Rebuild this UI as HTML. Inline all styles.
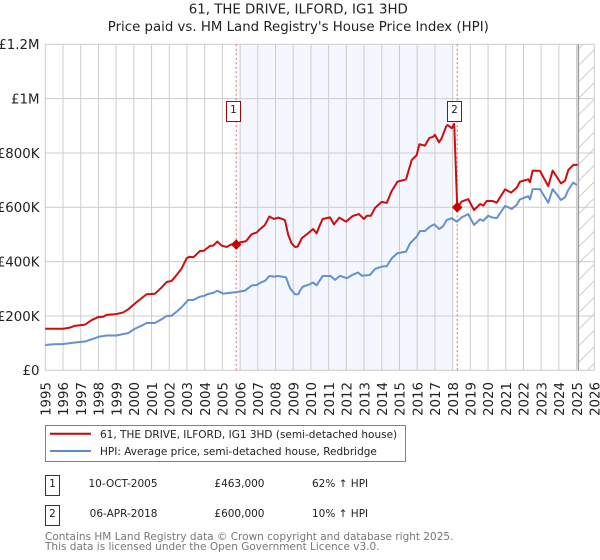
<!DOCTYPE html>
<html>
<head>
<meta charset="utf-8">
<title>61, THE DRIVE, ILFORD, IG1 3HD</title>
<style>
html,body{margin:0;padding:0;background:#fff;}
svg{display:block;font-family:"DejaVu Sans","Liberation Sans",sans-serif;}
</style>
</head>
<body>
<svg id="chart" xmlns="http://www.w3.org/2000/svg" width="600" height="560" viewBox="0 0 600 560">
  <defs>
    <pattern id="hatch" patternUnits="userSpaceOnUse" width="16.5" height="16.5" patternTransform="translate(578 0)">
      <line x1="0" y1="16.5" x2="16.5" y2="0" stroke="#cfcfcf" stroke-width="1"/>
    </pattern>
  </defs>
  <text x="298.3" y="13.3" font-size="13.33" text-anchor="middle" fill="#222">61, THE DRIVE, ILFORD, IG1 3HD</text>
  <text x="298.3" y="30.8" font-size="13.33" text-anchor="middle" fill="#222">Price paid vs. HM Land Registry's House Price Index (HPI)</text>
  <g id="plot"></g>

  <g>
    <rect x="45.5" y="425.5" width="360" height="36" fill="#fff" stroke="#808080" stroke-width="1"/>
    <line x1="50" y1="433.8" x2="91" y2="433.8" stroke="#cc0000" stroke-width="2"/>
    <text x="100" y="438.2" font-size="10.5" fill="#222">61, THE DRIVE, ILFORD, IG1 3HD (semi-detached house)</text>
    <line x1="50" y1="451" x2="91" y2="451" stroke="#5b8bd0" stroke-width="2"/>
    <text x="100" y="455" font-size="10.5" fill="#222">HPI: Average price, semi-detached house, Redbridge</text>
  </g>

  <g font-size="10.5" fill="#222">
    <rect x="45.5" y="475.5" width="14" height="20" fill="#fff" stroke="#b20000" stroke-width="1"/>
    <text x="52.5" y="487" text-anchor="middle">1</text>
    <text x="157.5" y="487" text-anchor="end">10-OCT-2005</text>
    <text x="264.5" y="487" text-anchor="end">£463,000</text>
    <text x="312" y="487">62% ↑ HPI</text>
    <rect x="45.5" y="505.5" width="14" height="20" fill="#fff" stroke="#b20000" stroke-width="1"/>
    <text x="52.5" y="517" text-anchor="middle">2</text>
    <text x="157.5" y="517" text-anchor="end">06-APR-2018</text>
    <text x="264.5" y="517" text-anchor="end">£600,000</text>
    <text x="312" y="517">10% ↑ HPI</text>
  </g>

  <text x="45" y="540" font-size="10.5" fill="#777">Contains HM Land Registry data © Crown copyright and database right 2025.</text>
  <text x="45" y="550" font-size="10.5" fill="#777">This data is licensed under the Open Government Licence v3.0.</text>
</svg>
<script>
var yTickValues = [0, 200, 400, 600, 800, 1000, 1200];
var yTickLabels = ['£0', '£200K', '£400K', '£600K', '£800K', '£1M', '£1.2M'];
var xTickYears = [1995,1996,1997,1998,1999,2000,2001,2002,2003,2004,2005,2006,2007,2008,2009,2010,2011,2012,2013,2014,2015,2016,2017,2018,2019,2020,2021,2022,2023,2024,2025,2026];

var priceYears = [1995.00,1996.02,1996.39,1996.62,1997.24,1997.62,1997.99,1998.27,1998.46,1999.01,1999.40,1999.69,2000.03,2000.35,2000.72,2001.19,2001.57,2001.85,2002.13,2002.42,2002.70,2002.98,2003.13,2003.36,2003.73,2003.96,2004.30,2004.49,2004.71,2004.96,2005.24,2005.52,2005.78,2005.99,2006.33,2006.65,2006.93,2007.12,2007.40,2007.65,2007.91,2008.16,2008.53,2008.72,2008.91,2009.10,2009.25,2009.48,2009.83,2010.12,2010.32,2010.47,2010.66,2011.08,2011.30,2011.60,2011.98,2012.36,2012.71,2012.99,2013.16,2013.39,2013.62,2014.00,2014.28,2014.56,2014.88,2015.37,2015.69,2015.97,2016.12,2016.44,2016.68,2016.91,2017.00,2017.23,2017.38,2017.63,2017.72,2017.95,2018.09,2018.26,2018.51,2018.88,2019.21,2019.55,2019.73,2019.92,2020.26,2020.49,2020.96,2021.30,2021.62,2021.80,2022.27,2022.37,2022.52,2022.93,2023.40,2023.65,2024.12,2024.35,2024.53,2024.81,2025.06];
var priceValues = [153,153,157,163,168,185,196,197,204,207,213,225,244,261,280,282,305,325,329,351,375,412,418,416,439,440,458,459,474,459,454,464,463,471,475,501,507,519,535,566,557,562,553,498,467,454,455,486,504,520,504,529,557,563,537,562,547,568,575,557,569,569,598,620,616,660,694,703,774,792,832,827,855,860,867,839,854,897,903,891,907,600,621,630,590,612,606,623,623,617,666,654,672,694,703,692,735,734,678,735,688,698,737,756,756];

var hpiYears = [1995.00,1995.45,1996.02,1996.62,1997.24,1997.62,1997.99,1998.46,1999.01,1999.69,2000.03,2000.53,2000.72,2001.19,2001.57,2001.85,2002.13,2002.42,2002.70,2003.07,2003.36,2003.73,2003.96,2004.20,2004.49,2004.71,2005.05,2005.52,2005.78,2006.27,2006.65,2006.93,2007.22,2007.40,2007.65,2007.91,2008.16,2008.59,2008.82,2009.10,2009.29,2009.38,2009.55,2009.95,2010.12,2010.32,2010.66,2011.11,2011.36,2011.64,2012.02,2012.37,2012.66,2012.87,2013.33,2013.62,2014.00,2014.28,2014.56,2014.88,2015.37,2015.59,2015.97,2016.16,2016.44,2016.72,2016.96,2017.25,2017.47,2017.66,2017.95,2018.23,2018.51,2018.88,2019.21,2019.55,2019.73,2020.01,2020.21,2020.49,2020.96,2021.34,2021.62,2021.80,2022.27,2022.37,2022.52,2022.93,2023.40,2023.65,2024.12,2024.35,2024.53,2024.81,2025.01];
var hpiValues = [93,96,97,102,106,114,123,128,128,137,152,167,174,174,188,200,201,216,232,259,259,271,274,281,285,293,282,286,288,293,312,314,325,329,347,345,347,342,302,280,280,293,308,317,323,313,347,347,333,348,339,352,360,348,351,373,382,383,412,431,437,467,492,513,513,529,537,520,531,553,560,547,563,575,535,556,550,569,563,560,605,594,609,629,641,629,667,667,617,667,627,637,664,691,682];

var saleYears = [2005.78, 2018.26];
var saleValues = [463, 600];
var saleLabels = ['1', '2'];

var shadeStartYear = 2006;
var shadeEndYear = 2018;
var forecastStartYear = 2025.1;

var PLOT_L = 45.3, PLOT_R = 594.3, PLOT_T = 44.3, PLOT_B = 370.3;
function xScale(y) { return PLOT_L + (y - 1995) / 31 * (PLOT_R - PLOT_L); }
function yScale(v) { return PLOT_B - v / 1200 * (PLOT_B - PLOT_T); }

var NS = 'http://www.w3.org/2000/svg';
var plot = document.getElementById('plot');
function mk(tag, attrs) {
  var el = document.createElementNS(NS, tag);
  for (var k in attrs) el.setAttribute(k, attrs[k]);
  plot.appendChild(el);
  return el;
}
function linePath(xs, vs) {
  var d = '';
  for (var i = 0; i < xs.length; i++) {
    d += (i ? 'L' : 'M') + xScale(xs[i]).toFixed(2) + ' ' + yScale(vs[i]).toFixed(2);
  }
  return d;
}

var shade = mk('rect', {x: xScale(shadeStartYear), y: PLOT_T, width: xScale(shadeEndYear) - xScale(shadeStartYear), height: PLOT_B - PLOT_T, fill: '#f4f7ff'});



var hatch = mk('rect', {x: xScale(forecastStartYear), y: PLOT_T, width: PLOT_R - xScale(forecastStartYear), height: PLOT_B - PLOT_T, fill: 'url(#hatch)'});



yTickValues.forEach(function (v, i) {
  var g = mk('line', {x1: PLOT_L, x2: PLOT_R, y1: yScale(v), y2: yScale(v), stroke: '#cccccc', 'stroke-width': 1});
  
  
  var t = mk('text', {x: 39.5, y: yScale(v) + 4.9, 'font-size': 13.33, 'text-anchor': 'end', fill: '#222'});
  t.textContent = yTickLabels[i];
  
  
});

xTickYears.forEach(function (yr) {
  var x = xScale(yr);
  var g = mk('line', {x1: x, x2: x, y1: PLOT_T, y2: PLOT_B, stroke: '#cccccc', 'stroke-width': 1});
  
  
  var tx = x + 5.2;
  var t = mk('text', {x: tx, y: 382, 'font-size': 13.33, 'text-anchor': 'end', fill: '#222', transform: 'rotate(-90 ' + tx + ' 382)'});
  t.textContent = yr;
  
  
});

var fLine = mk('line', {x1: xScale(forecastStartYear), x2: xScale(forecastStartYear), y1: PLOT_T, y2: PLOT_B, stroke: '#999999', 'stroke-width': 1.4});



saleYears.forEach(function (yr) {
  var v = mk('line', {x1: xScale(yr), x2: xScale(yr), y1: PLOT_T, y2: PLOT_B, stroke: '#e8606c', 'stroke-width': 1, 'stroke-dasharray': '2 2.5'});
  
  
});

var hpi = mk('path', {d: linePath(hpiYears, hpiValues), fill: 'none', stroke: '#5b8bd0', 'stroke-width': 2, 'stroke-linejoin': 'round', opacity: 0.95});



var price = mk('path', {d: linePath(priceYears, priceValues), fill: 'none', stroke: '#cc0000', 'stroke-width': 2, 'stroke-linejoin': 'round', opacity: 0.95});



saleYears.forEach(function (yr, i) {
  var cx = xScale(yr), cy = yScale(saleValues[i]), r = 4.2;
  var m = mk('polygon', {points: [cx - r, cy, cx, cy - r, cx + r, cy, cx, cy + r].join(' '), fill: '#cc0000', stroke: '#cc0000', 'stroke-width': 1.6, 'stroke-linejoin': 'round'});
  
  
  var bx = Math.round(cx) - 9.5;
  var box = mk('rect', {x: bx, y: 101.5, width: 14, height: 20, fill: '#fff', stroke: '#b20000', 'stroke-width': 1});
  
  
  var t = mk('text', {x: bx + 7, y: 113, 'font-size': 10.5, 'text-anchor': 'middle', fill: '#222'});
  t.textContent = saleLabels[i];
  
  
});
</script>
</body>
</html>
